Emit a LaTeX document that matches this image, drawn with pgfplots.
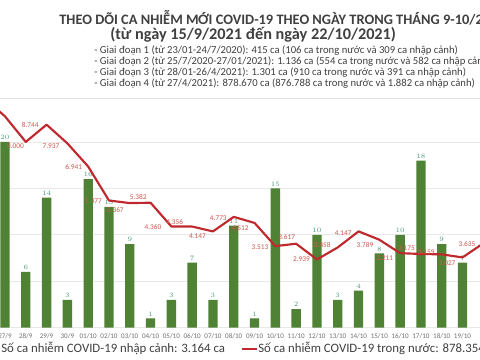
\documentclass[border=0pt]{standalone}
\usepackage{pgfplots}
\pgfplotsset{compat=1.18}
\usepackage{pgfplotstable}
\usepackage{fontspec}
\setmainfont{Carlito}
\definecolor{barg}{HTML}{4F8234}
\definecolor{lred}{HTML}{C0282D}
\definecolor{blab}{HTML}{4E9B7C}
\definecolor{llab}{HTML}{D0574F}
\definecolor{txt}{HTML}{404040}
\definecolor{tickc}{HTML}{707070}

\pgfplotstableread{
i v
1 20
2 6
3 14
4 3
5 16
6 13
7 9
8 1
9 3
10 7
11 3
12 11
13 1
14 15
15 2
16 10
17 3
18 4
19 8
20 10
21 18
22 9
23 7
}\bars

\pgfplotstableread{
i v lab dx dy
0 9900 {} 0 0
1 9100 {} 0 0
2 8000 8.000 1 4
3 8744 8.744 7 0
4 7937 7.937 7 3
5 6941 6.941 5 1
6 5477 5.477 6 1
7 5367 5.367 5 7
8 5382 5.382 3 -6
9 4360 4.360 9 1
10 4356 4.356 8 -5
11 4147 4.147 6 5
12 4773 4.773 6 1
13 4512 4.512 5 5
14 3513 3.513 6 1
15 3617 3.617 0 -7
16 2939 2.939 6 0
17 3458 3.458 6 -2
18 4147 4.147 6 2
19 3789 3.789 5 5
20 3211 3.211 6 5
21 3175 3.175 5 -6
22 3159 3.159 6 -2
23 3027 3.027 6 6
24 3635 3.635 7 1
}\domestic

\begin{document}
\begin{tikzpicture}
\useasboundingbox (0pt,-270pt) rectangle (360pt,0pt);
\clip (0pt,-270pt) rectangle (360pt,0pt);
\fill[white] (0pt,-270pt) rectangle (360pt,0pt);
\draw[gray!25, line width=0.6pt] (0pt,-73.5pt) -- (360pt,-73.5pt);

\node[anchor=west, text=txt, inner sep=0pt, font=\fontsize{10.8}{13}\selectfont\bfseries] at (44.3pt,-13.5pt) {THEO DÕI CA NHIỄM MỚI COVID-19 THEO NGÀY TRONG THÁNG 9-10/2021};
\node[anchor=west, text=txt, inner sep=0pt, font=\fontsize{12.2}{14}\selectfont\bfseries] at (82.5pt,-26.25pt) {(từ ngày 15/9/2021 đến ngày 22/10/2021)};
\begin{scope}[every node/.style={anchor=west, text=txt, inner sep=0pt, font=\fontsize{8}{9}\selectfont}]
\node at (70.5pt,-38.25pt) {- Giai đoạn 1 (từ 23/01-24/7/2020): 415 ca (106 ca trong nước và 309 ca nhập cảnh)};
\node at (70.5pt,-46.5pt) {- Giai đoạn 2 (từ 25/7/2020-27/01/2021): 1.136 ca (554 ca trong nước và 582 ca nhập cảnh)};
\node at (70.5pt,-54.75pt) {- Giai đoạn 3 (từ 28/01-26/4/2021): 1.301 ca (910 ca trong nước và 391 ca nhập cảnh)};
\node at (70.5pt,-63pt) {- Giai đoạn 4 (từ 27/4/2021): 878.670 ca (876.788 ca trong nước và 1.882 ca nhập cảnh)};
\end{scope}

\begin{axis}[
  at={(0pt,-245.8pt)}, anchor=south west,
  scale only axis, width=360pt, height=174.2pt,
  xmin=0.76, xmax=23.84, ymin=0, ymax=25,
  axis line style={draw=none},
  major tick length=0pt,
  ytick={0,5,10,15,20}, yticklabels={},
  ymajorgrids, grid style={gray!18, line width=0.5pt},
  xtick={0,...,24},
  xticklabels={26/9,27/9,28/9,29/9,30/9,01/10,02/10,03/10,04/10,05/10,06/10,07/10,08/10,09/10,10/10,11/10,12/10,13/10,14/10,15/10,16/10,17/10,18/10,19/10,20/10},
  xticklabel style={font=\fontsize{5.3}{6}\selectfont, text=tickc, yshift=-0.5pt},
  ybar, bar width=7pt,
  clip=false,
]
\addplot[fill=barg, draw=none, nodes near coords,
  every node near coord/.style={font=\fontsize{5.5}{6}\selectfont, text=blab, inner sep=1.5pt}]
  table[x=i, y=v]{\bars};
\end{axis}

\begin{axis}[
  at={(0pt,-245.8pt)}, anchor=south west,
  scale only axis, width=360pt, height=174.2pt,
  xmin=0.76, xmax=23.84, ymin=0, ymax=10000,
  hide axis, clip=false,
]
\addplot[lred, line width=1.6pt, mark=none, line join=round,
  nodes near coords, point meta=explicit symbolic,
  visualization depends on={\thisrow{dx}\as\dx},
  visualization depends on={\thisrow{dy}\as\dy},
  every node near coord/.style={anchor=east, inner sep=0pt,
    font=\fontsize{5.5}{6}\selectfont, text=llab,
    xshift={-0.75pt*(\dx)}, yshift={-0.75pt*(\dy)}}]
  table[x=i, y=v, meta=lab]{\domestic};
\end{axis}

\node[anchor=west, text=txt, inner sep=0pt, font=\fontsize{9.6}{12}\selectfont] at (0.75pt,-261pt) {Số ca nhiễm COVID-19 nhập cảnh: 3.164 ca};
\draw[lred, line width=1.6pt] (181.5pt,-261.5pt) -- (192.75pt,-261.5pt);
\node[anchor=west, text=txt, inner sep=0pt, font=\fontsize{9.6}{12}\selectfont] at (193.5pt,-261pt) {Số ca nhiễm COVID-19 trong nước: 878.354 ca};
\end{tikzpicture}
\end{document}
